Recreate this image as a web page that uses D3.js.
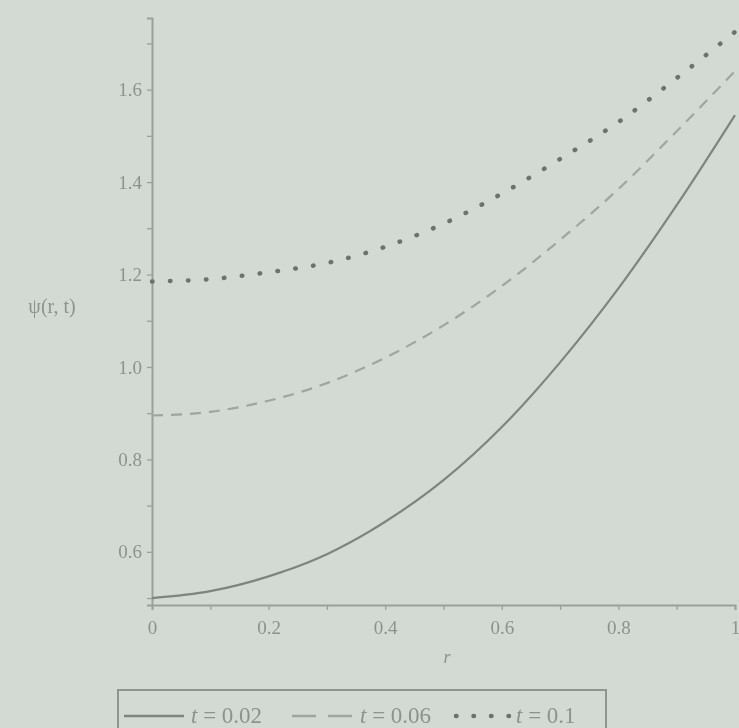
<!DOCTYPE html>
<html>
<head>
<meta charset="utf-8">
<script src="https://cdn.jsdelivr.net/npm/d3@7"></script>
<style>
  body { margin: 0; background: #d3dad4; }
  svg { display: block; }
  .tick text { font-family: "Liberation Serif", serif; }
</style>
</head>
<body>
<div id="chart"></div>
<script>
// radial positions and the three curves
const rValues = [0, 0.1, 0.2, 0.3, 0.4, 0.5, 0.6, 0.7, 0.8, 0.9, 1.0];
const psiT002 = [0.50, 0.515, 0.547, 0.595, 0.665, 0.755, 0.87, 1.01, 1.17, 1.35, 1.545];
const psiT006 = [0.895, 0.903, 0.927, 0.965, 1.02, 1.09, 1.175, 1.275, 1.385, 1.51, 1.64];
const psiT01  = [1.185, 1.19, 1.205, 1.225, 1.26, 1.31, 1.375, 1.45, 1.53, 1.625, 1.725];
const seriesLabels = ['0.02', '0.06', '0.1'];
const xTicks = [0, 0.2, 0.4, 0.6, 0.8, 1];
const yTicks = [0.6, 0.8, 1.0, 1.2, 1.4, 1.6];

const width = 739, height = 728;
const svg = d3.select('#chart').append('svg')
    .attr('width', width)
    .attr('height', height);

// slight blur to mimic the photographed print
svg.append('defs').append('filter')
    .attr('id', 'soft')
    .append('feGaussianBlur')
    .attr('stdDeviation', 0.6);

const plot = svg.append('g').attr('filter', 'url(#soft)');

// scales
const x = d3.scaleLinear().domain([0, 1]).range([152, 735]);
const y = d3.scaleLinear().domain([0.485, 1.755]).range([605, 18]);

const axisColor = '#9aa09a';
const textColor = '#8c928c';

// x axis
const xAxis = plot.append('g')
    .attr('transform', `translate(0,${y(0.485)})`)
    .call(d3.axisBottom(x).tickValues(d3.range(0, 1.01, 0.1)).tickSize(5)
        .tickFormat(d => xTicks.some(t => Math.abs(t - d) < 1e-9) ? d3.format('')(+d.toFixed(1)) : ''));
xAxis.select('.domain').attr('stroke', axisColor).attr('stroke-width', 2);
xAxis.selectAll('.tick line').attr('stroke', axisColor).attr('stroke-width', 1.3);
xAxis.selectAll('.tick text')
    .attr('fill', textColor)
    .attr('font-size', 19)
    .attr('dy', '1.1em');

// y axis
const yAxis = plot.append('g')
    .attr('transform', `translate(${x(0)},0)`)
    .call(d3.axisLeft(y).tickValues(d3.range(0.5, 1.75, 0.1)).tickSize(5)
        .tickFormat(d => yTicks.some(t => Math.abs(t - d) < 1e-9) ? d3.format('.1f')(d) : ''));
yAxis.select('.domain').attr('stroke', axisColor).attr('stroke-width', 2);
yAxis.selectAll('.tick line').attr('stroke', axisColor).attr('stroke-width', 1.3);
yAxis.selectAll('.tick text')
    .attr('fill', textColor)
    .attr('font-size', 19)
    .attr('x', -10);

// axis titles
plot.append('text')
    .attr('x', 447).attr('y', 663)
    .attr('text-anchor', 'middle')
    .attr('font-family', 'Liberation Serif, serif')
    .attr('font-style', 'italic')
    .attr('font-size', 18)
    .attr('fill', textColor)
    .text('r');

plot.append('text')
    .attr('x', 52).attr('y', 313)
    .attr('text-anchor', 'middle')
    .attr('font-family', 'Liberation Serif, serif')
    .attr('font-size', 20)
    .attr('fill', textColor)
    .text('ψ(r, t)');

// curves
const line = d3.line()
    .x(d => x(d[0]))
    .y(d => y(d[1]))
    .curve(d3.curveMonotoneX);

const series = [
  {values: psiT002, stroke: '#7e857e', width: 2.2, dash: null, cap: 'butt'},
  {values: psiT006, stroke: '#9fa59f', width: 2.2, dash: '11,8', cap: 'butt'},
  {values: psiT01,  stroke: '#6c736c', width: 4.5, dash: '0.5,17.5', cap: 'round'}
];

plot.selectAll('.curve')
    .data(series)
    .enter()
    .append('path')
    .classed('curve', true)
    .attr('d', d => line(rValues.map((r, i) => [r, d.values[i]])))
    .attr('fill', 'none')
    .attr('stroke', d => d.stroke)
    .attr('stroke-width', d => d.width)
    .attr('stroke-dasharray', d => d.dash)
    .attr('stroke-linecap', d => d.cap);

// legend
const legend = plot.append('g').classed('legend', true);
legend.append('rect')
    .attr('x', 118).attr('y', 690)
    .attr('width', 488).attr('height', 50)
    .attr('fill', 'none')
    .attr('stroke', '#8e948e')
    .attr('stroke-width', 2);

const legendItems = [
  {x1: 124, x2: 184, tx: 191},
  {x1: 292, x2: 352, tx: 360},
  {x1: 456, x2: 512, tx: 516}
];

legend.selectAll('.legend-line')
    .data(legendItems)
    .enter()
    .append('line')
    .classed('legend-line', true)
    .attr('x1', d => d.x1).attr('x2', d => d.x2)
    .attr('y1', 716).attr('y2', 716)
    .attr('stroke', (d, i) => series[i].stroke)
    .attr('stroke-width', (d, i) => i === 2 ? 4.5 : 2.4)
    .attr('stroke-dasharray', (d, i) => i === 1 ? '24,12' : (i === 2 ? '0.5,17' : null))
    .attr('stroke-linecap', (d, i) => series[i].cap);

const legendText = legend.selectAll('.legend-text')
    .data(legendItems)
    .enter()
    .append('text')
    .classed('legend-text', true)
    .attr('x', d => d.tx).attr('y', 723)
    .attr('font-family', 'Liberation Serif, serif')
    .attr('font-size', 23)
    .attr('fill', textColor);
legendText.append('tspan').attr('font-style', 'italic').text('t');
legendText.append('tspan').text((d, i) => ' = ' + seriesLabels[i]);
</script>
</body>
</html>
